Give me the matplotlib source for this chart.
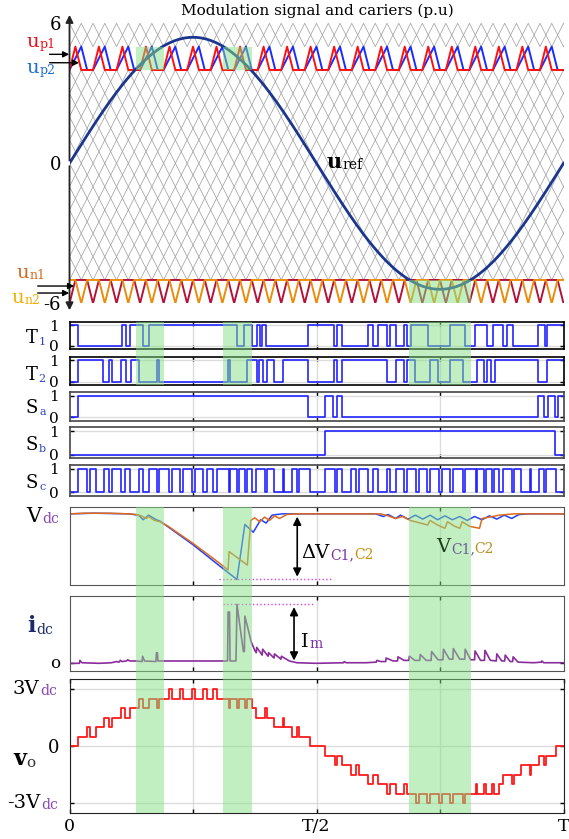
import numpy as np
import matplotlib.pyplot as plt
import matplotlib.transforms as mtransforms
from matplotlib.patches import Rectangle

plt.rcParams['font.family'] = ['DejaVu Serif']

# ---- data (time in units of T) ----
n_periods = 21            # carrier periods per fundamental period
u_ref_amp = 5.4           # amplitude of the reference (p.u)
grey_bands = [5, 3, 2, 1, 0, -1, -2, -3, -4, -5]   # lower edge of the grey carrier bands
up_base, up_peak = 4, 5
un_base, un_valley = -5, -6

green_regions = [(0.135, 0.191), (0.311, 0.369), (0.687, 0.812)]

T1_init = 1
T1_edges = [0.018, 0.106, 0.114, 0.122, 0.148, 0.161, 0.340, 0.354, 0.369, 0.379,
            0.385, 0.389, 0.397, 0.483, 0.535, 0.541, 0.552, 0.605, 0.615, 0.624,
            0.642, 0.649, 0.661, 0.678, 0.683, 0.691, 0.725, 0.770, 0.801, 0.821,
            0.845, 0.858, 0.878, 0.885, 0.898, 0.949, 0.963, 0.966]
T2_init = 0
T2_edges = [0.018, 0.068, 0.079, 0.087, 0.104, 0.114, 0.124, 0.141, 0.178, 0.182,
            0.321, 0.325, 0.360, 0.379, 0.384, 0.392, 0.399, 0.414, 0.433, 0.4835,
            0.535, 0.541, 0.552, 0.642, 0.661, 0.678, 0.683, 0.699, 0.730, 0.7466,
            0.770, 0.797, 0.824, 0.839, 0.8445, 0.8526, 0.861, 0.949, 0.966]
Sa_init = 0
Sa_edges = [0.018, 0.4835, 0.517, 0.534, 0.541, 0.552, 0.949, 0.961, 0.969, 0.983, 0.9895]
Sb_init = 0
Sb_edges = [0.517, 0.983]

vo_t = [0.000, 0.018, 0.036, 0.042, 0.054, 0.070, 0.079, 0.087, 0.105, 0.113,
        0.123, 0.141, 0.148, 0.160, 0.178, 0.182, 0.202, 0.207, 0.224, 0.230,
        0.247, 0.254, 0.270, 0.278, 0.291, 0.299, 0.322, 0.325, 0.340, 0.344,
        0.355, 0.359, 0.369, 0.378, 0.396, 0.399, 0.414, 0.432, 0.434, 0.450,
        0.460, 0.465, 0.486,
        0.517, 0.537, 0.542, 0.552, 0.570, 0.579, 0.587, 0.605, 0.615, 0.624,
        0.642, 0.649, 0.661, 0.678, 0.683, 0.702, 0.707, 0.724, 0.730, 0.748,
        0.754, 0.770, 0.776, 0.796, 0.801, 0.822, 0.825, 0.840, 0.844, 0.855,
        0.859, 0.869, 0.878, 0.896, 0.899, 0.914, 0.932, 0.934, 0.950, 0.960,
        0.965, 0.985, 1.000]
vo_lvl = [0, 0.5, 1, 0.5, 1, 1.5, 1, 1.5, 2, 1.5,
          2, 2.5, 2, 2.5, 2, 2.5, 3, 2.5, 3, 2.5,
          3, 2.5, 3, 2.5, 3, 2.5, 2, 2.5, 2, 2.5,
          2, 2.5, 2, 1.5, 2, 1.5, 1, 1.5, 1, 0.5,
          1, 0.5, 0,
          -0.5, -1, -0.5, -1, -1.5, -1, -1.5, -2, -1.5, -2,
          -2.5, -2, -2.5, -2, -2.5, -3, -2.5, -3, -2.5, -3,
          -2.5, -3, -2.5, -3, -2.5, -2, -2.5, -2, -2.5, -2,
          -2.5, -2, -1.5, -2, -1.5, -1, -1.5, -1, -0.5, -1,
          -0.5, 0, 0]

vc1_t = [0.0, 0.05, 0.12, 0.14, 0.149, 0.16, 0.176, 0.183, 0.20, 0.25, 0.30, 0.339,
         0.355, 0.372, 0.387, 0.398, 0.41, 0.43, 0.62, 0.635, 0.645, 0.66, 0.67, 0.685,
         0.70, 0.715, 0.73, 0.745, 0.76, 0.775, 0.79, 0.805, 0.82, 0.835, 0.85, 0.865,
         0.88, 0.895, 0.91, 0.93, 1.0]
vc1_v = [1.0, 1.01, 1.0, 0.98, 0.91, 0.98, 0.91, 0.89, 0.80, 0.53, 0.23, 0.0,
         0.84, 0.72, 0.91, 0.86, 0.98, 1.0, 1.0, 0.96, 0.99, 0.93, 0.98, 0.92,
         0.98, 0.92, 0.98, 0.91, 0.97, 0.91, 0.96, 0.90, 0.96, 0.91, 0.97, 0.92,
         0.98, 0.93, 0.99, 1.0, 1.0]
vc2_t = [0.0, 0.03, 0.08, 0.12, 0.135, 0.145, 0.155, 0.16, 0.172, 0.183, 0.20, 0.25,
         0.30, 0.321, 0.323, 0.360, 0.367, 0.375, 0.385, 0.395, 0.405, 0.415, 0.425,
         0.44, 0.46, 0.63, 0.645, 0.66, 0.675, 0.69, 0.71, 0.725, 0.73, 0.745, 0.76,
         0.765, 0.78, 0.79, 0.795, 0.81, 0.83, 0.835, 0.85, 0.87, 0.9, 1.0]
vc2_v = [1.0, 1.01, 1.01, 1.0, 0.99, 0.97, 0.93, 0.96, 0.90, 0.88, 0.81, 0.55,
         0.27, 0.145, 0.425, 0.22, 0.90, 0.94, 0.88, 0.95, 0.90, 0.97, 0.93,
         0.99, 1.0, 1.0, 0.97, 0.93, 0.96, 0.90, 0.86, 0.83, 0.90, 0.83, 0.78,
         0.88, 0.81, 0.78, 0.88, 0.81, 0.78, 0.93, 0.95, 0.98, 1.0, 1.0]

idc_t = [0.000, 0.020, 0.021, 0.025, 0.060, 0.085, 0.095, 0.100, 0.103, 0.106,
         0.115, 0.118, 0.122, 0.135, 0.147, 0.148, 0.152, 0.175, 0.176, 0.178,
         0.179, 0.320, 0.321, 0.324, 0.325, 0.337, 0.339, 0.352, 0.354, 0.355,
         0.368, 0.375, 0.378, 0.379, 0.390, 0.391, 0.402, 0.403, 0.414, 0.415,
         0.428, 0.429, 0.445, 0.460, 0.500, 0.555, 0.556, 0.560, 0.600, 0.621,
         0.622, 0.630, 0.640, 0.641, 0.655, 0.664, 0.665, 0.677, 0.687, 0.688,
         0.699, 0.709, 0.710, 0.722, 0.732, 0.733, 0.746, 0.756, 0.757, 0.769,
         0.776, 0.777, 0.790, 0.800, 0.801, 0.812, 0.820, 0.821, 0.832, 0.840,
         0.841, 0.852, 0.864, 0.865, 0.875, 0.881, 0.882, 0.892, 0.897, 0.898,
         0.908, 0.940, 0.955, 0.956, 0.960, 1.000]
idc_v = [0.00, 0.00, 0.05, 0.01, 0.00, 0.01, 0.03, 0.02, 0.05, 0.03,
         0.04, 0.06, 0.04, 0.04, 0.03, 0.12, 0.04, 0.03, 0.18, 0.18,
         0.04, 0.04, 0.87, 0.87, 0.04, 0.04, 1.00, 0.20, 0.20, 0.80,
         0.36, 0.22, 0.18, 0.27, 0.14, 0.24, 0.12, 0.18, 0.09, 0.16,
         0.07, 0.12, 0.04, 0.01, 0.00, 0.01, 0.03, 0.01, 0.01, 0.02,
         0.05, 0.03, 0.03, 0.09, 0.04, 0.04, 0.11, 0.05, 0.05, 0.12,
         0.05, 0.05, 0.15, 0.05, 0.05, 0.20, 0.06, 0.06, 0.24, 0.07,
         0.07, 0.25, 0.07, 0.07, 0.24, 0.06, 0.06, 0.21, 0.05, 0.05,
         0.22, 0.05, 0.04, 0.16, 0.04, 0.04, 0.14, 0.03, 0.03, 0.11,
         0.02, 0.01, 0.02, 0.04, 0.01, 0.01]

# ---- layout (pixel geometry of the reference) ----
W, H = 569, 839
X0, X1 = 69.5, 563.5
fig = plt.figure(figsize=(W / 100, H / 100), dpi=100)

lab = fig.add_axes([0, 0, 1, 1], zorder=10)
lab.set_xlim(0, W)
lab.set_ylim(H, 0)
lab.axis('off')


def panel(top, bottom):
    ax = fig.add_axes([X0 / W, 1 - bottom / H, (X1 - X0) / W, (bottom - top) / H])
    ax.set_xlim(0, 1)
    return ax


def sub_label(x, y, main, subs, cmain='black', size=13, ssize=8.5, weight='normal'):
    t = lab.text(x, y, main, color=cmain, fontsize=size, va='baseline', ha='left',
                 fontweight=weight)
    prev = t
    for i, (s, c) in enumerate(subs):
        prev = lab.annotate(s, xy=(1, 0), xycoords=prev,
                            xytext=(0.5 if i == 0 else 0, 0),
                            textcoords='offset points', color=c, fontsize=ssize,
                            va='bottom', ha='left')
    return t


def square(edges, init):
    ts = [0.0] + list(edges) + [1.0]
    ys = [(init + i) % 2 for i in range(len(edges) + 1)]
    ys.append(ys[-1])
    return ts, ys


# ---- top panel: carriers and reference ----
ax = panel(23.3, 303.3)
ax.set_ylim(-6, 6)
P = 1.0 / n_periods
k = np.arange(n_periods + 1) * P
for b in grey_bands:
    ta = np.ravel(np.column_stack([k, k + P / 2]))
    ya = np.ravel(np.column_stack([np.full_like(k, b), np.full_like(k, b + 1)]))
    yb = np.ravel(np.column_stack([np.full_like(k, b + 1), np.full_like(k, b)]))
    ax.plot(ta, ya, color='#a3a3a3', lw=0.55)
    ax.plot(ta, yb, color='#a3a3a3', lw=0.55)

kk = np.arange(n_periods) * P
# u_p1 (red) and u_p2 (blue), triangles above a flat base
tr = np.ravel(np.column_stack([kk, kk + P / 4, kk + P / 2, kk + P]))
yr = np.ravel(np.column_stack([np.full_like(kk, up_base), np.full_like(kk, up_peak),
                               np.full_like(kk, up_base), np.full_like(kk, up_base)]))
tbl = np.ravel(np.column_stack([kk, kk + P / 2, kk + 3 * P / 4, kk + P]))
ax.plot(tbl, yr, color='#1a2cff', lw=1.4)
ax.plot(tr, yr, color='#ff1010', lw=1.4)
# u_n1 / u_n2 below
tc = np.ravel(np.column_stack([kk, kk + P / 4, kk + 3 * P / 4, kk + P]))
yc = np.ravel(np.column_stack([np.full_like(kk, un_valley), np.full_like(kk, un_base),
                               np.full_like(kk, un_base), np.full_like(kk, un_valley)]))
to = np.ravel(np.column_stack([kk, kk + P / 4, kk + P / 2, kk + 3 * P / 4, kk + P]))
yo = np.ravel(np.column_stack([np.full_like(kk, un_base), np.full_like(kk, un_base),
                               np.full_like(kk, un_valley), np.full_like(kk, un_base),
                               np.full_like(kk, un_base)]))
ax.plot(tc, yc, color='#b5123a', lw=1.4)
ax.plot(to, yo, color='#ea8c0c', lw=1.4)

tt = np.linspace(0, 1, 500)
ax.plot(tt, u_ref_amp * np.sin(2 * np.pi * tt), color='#1b368f', lw=2)

for (a, b), (lo, hi) in zip(green_regions, [(up_base, up_peak), (up_base, up_peak),
                                            (un_valley, un_base)]):
    ax.add_patch(Rectangle((a, lo), b - a, hi - lo, color='#87e187', alpha=0.5,
                           lw=0, zorder=5))

for s in ['top', 'right', 'bottom', 'left']:
    ax.spines[s].set_visible(False)
ax.set_xticks([])
ax.set_yticks([6, 0, -6])
ax.set_yticklabels(['6', '0', '-6'], fontsize=13)
ax.tick_params(axis='y', length=0, pad=6)
arr = dict(arrowstyle='-|>', color='#222222', lw=1.3, mutation_scale=11)
ax.annotate('', xy=(0, 6.48), xytext=(0, 0), arrowprops=arr, annotation_clip=False)
ax.annotate('', xy=(0, -6.42), xytext=(0, 0), arrowprops=arr, annotation_clip=False)
arr2 = dict(arrowstyle='-|>', color='black', lw=1.0, mutation_scale=9)
ax.annotate('', xy=(0.005, 4.67), xytext=(-0.046, 4.67), arrowprops=arr2, annotation_clip=False)
ax.annotate('', xy=(0.025, 4.31), xytext=(-0.046, 4.31), arrowprops=arr2, annotation_clip=False)
ax.annotate('', xy=(0.015, -5.26), xytext=(-0.070, -5.26), arrowprops=arr2, annotation_clip=False)
ax.annotate('', xy=(0.005, -5.56), xytext=(-0.070, -5.56), arrowprops=arr2, annotation_clip=False)

lab.text(317, 11, 'Modulation signal and cariers (p.u)', ha='center', va='center', fontsize=11)
sub_label(26, 47, 'u', [('p1', '#e8101a')], cmain='#e8101a', size=14, ssize=9)
sub_label(26, 73, 'u', [('p2', '#1f6fd0')], cmain='#1f6fd0', size=14, ssize=9)
sub_label(16, 278, 'u', [('n1', '#cf6a20')], cmain='#cf6a20', size=14, ssize=9)
sub_label(11, 303, 'u', [('n2', '#f0b000')], cmain='#f0b000', size=14, ssize=9)
sub_label(327, 168, 'u', [('ref', 'black')], size=15, ssize=10, weight='bold')

# ---- switching signals ----
sc_edges = [vo_t[i] for i in range(1, len(vo_t) - 1)
            if int(round(abs(vo_lvl[i]) * 2)) % 2 != int(round(abs(vo_lvl[i - 1]) * 2)) % 2]
sw = [(T1_edges, T1_init, 321.7, 349.3, 'T', '1', 343.3, 'black'),
      (T2_edges, T2_init, 356.7, 385.3, 'T', '2', 380.0, 'black'),
      (Sa_edges, Sa_init, 392.3, 420.7, 'S', 'a', 413.3, '#444444'),
      (Sb_edges, Sb_init, 427.3, 458.3, 'S', 'b', 450.0, '#444444'),
      (sc_edges, 0, 465.0, 496.0, 'S', 'c', 488.3, '#444444')]
for edges, init, top, bot, m, s, base, sc in sw:
    ax = panel(top, bot)
    ts, ys = square(edges, init)
    ax.step(ts, ys, where='post', color='#2323ff', lw=1.2)
    ax.set_ylim(-0.16, 1.16)
    ax.set_yticks([0, 1])
    ax.set_yticklabels(['0', '1'], fontsize=11)
    ax.set_xticks([0.25, 0.5, 0.75])
    ax.set_xticklabels([])
    ax.tick_params(direction='in', top=True, right=True, length=3, width=1, pad=7.5)
    ax.grid(color='#dcdcdc', lw=1)
    for sp in ax.spines.values():
        sp.set_color(sc)
        sp.set_linewidth(1.2)
    sub_label(26, base, m, [(s, '#2a44c8')], size=13, ssize=8)

# ---- capacitor voltages ----
ax_v = panel(507.3, 585.0)
ax_v.plot(vc1_t, vc1_v, color='#2040ff', lw=1.1)
ax_v.plot(vc2_t, vc2_v, color='#e06a1c', lw=1.1)
ax_v.set_ylim(-0.084, 1.10)
ax_v.plot([0.303, 0.534], [0.0, 0.0], color='#e040e0', lw=1, ls=':')
ax_v.annotate('', xy=(0.461, 0.0), xytext=(0.461, 1.0),
              arrowprops=dict(arrowstyle='<|-|>', color='black', lw=1.2, mutation_scale=12))
sub_label(26, 521.7, 'V', [('dc', '#8a44b8')], size=15, ssize=10)
sub_label(301, 558, '\u0394V', [('C1,', '#7a30a8'), ('C2', '#c8900c')], size=14, ssize=10)
sub_label(436, 552, 'V', [('C1,', '#6a5a9a'), ('C2', '#b89020')], cmain='#1f3d1f', size=14, ssize=10)

# ---- dc current ----
ax_i = panel(595.7, 670.7)
ax_i.plot(idc_t, idc_v, color='#8a2d9c', lw=1.2)
ax_i.set_ylim(-0.125, 1.146)
ax_i.plot([0.31, 0.4935], [1.0, 1.0], color='#e040e0', lw=1, ls=':')
ax_i.annotate('', xy=(0.4545, 0.0), xytext=(0.4545, 1.0),
              arrowprops=dict(arrowstyle='<|-|>', color='black', lw=1.2, mutation_scale=12))
sub_label(27, 632, 'i', [('dc', '#1a2a6a')], cmain='#1a2a6a', size=16, ssize=10, weight='bold')
sub_label(301, 646.7, 'I', [('m', '#7a30a8')], size=14, ssize=10)
lab.text(60, 663, 'o', ha='right', va='center', fontsize=12)

# ---- output voltage ----
ax_o = panel(679.3, 813.3)
ax_o.step(vo_t, vo_lvl, where='post', color='#ff1a1a', lw=1.3)
ax_o.set_ylim(-3.53, 3.53)
ax_o.set_yticks([-3, 0, 3])
ax_o.set_yticklabels(['', '0', ''], fontsize=13)
ax_o.set_xticks([0, 0.25, 0.5, 0.75, 1])
ax_o.set_xticklabels(['0', '', 'T/2', '', 'T'], fontsize=12.5)
ax_o.tick_params(direction='in', top=True, right=True, length=3, width=1, pad=7)
ax_o.tick_params(axis='x', pad=3.5)
ax_o.grid(color='#dcdcdc', lw=1)
sub_label(13, 694, '3V', [('dc', '#8a44b8')], size=14, ssize=10)
sub_label(7, 808, '-3V', [('dc', '#8a44b8')], size=14, ssize=10)
sub_label(13, 765, 'v', [('o', '#333333')], size=16, ssize=11, weight='bold')

for a in [ax_v, ax_i]:
    a.set_xticks([0.25, 0.5, 0.75])
    a.set_xticklabels([])
    a.set_yticks([])
    a.tick_params(direction='in', top=True, length=3, width=1)
    a.grid(axis='x', color='#dcdcdc', lw=1)
    for sp in a.spines.values():
        sp.set_color('#555555')
ax_i.set_yticks([0])
ax_i.set_yticklabels([''])
ax_i.tick_params(axis='y', direction='in', right=True, length=3)
for sp in ax_o.spines.values():
    sp.set_color('#222222')

# ---- green highlight bands across panels ----
for a, b in green_regions:
    blend = mtransforms.blended_transform_factory(ax_o.transData, lab.transData)
    lab.add_patch(Rectangle((a, 507.3), b - a, 813.3 - 507.3, transform=blend,
                            color='#87e187', alpha=0.5, lw=0, clip_on=False))
    lab.add_patch(Rectangle((a, 321.7), b - a, 385.3 - 321.7, transform=blend,
                            color='#87e187', alpha=0.5, lw=0, clip_on=False))

fig.savefig('out.png', dpi=100)
